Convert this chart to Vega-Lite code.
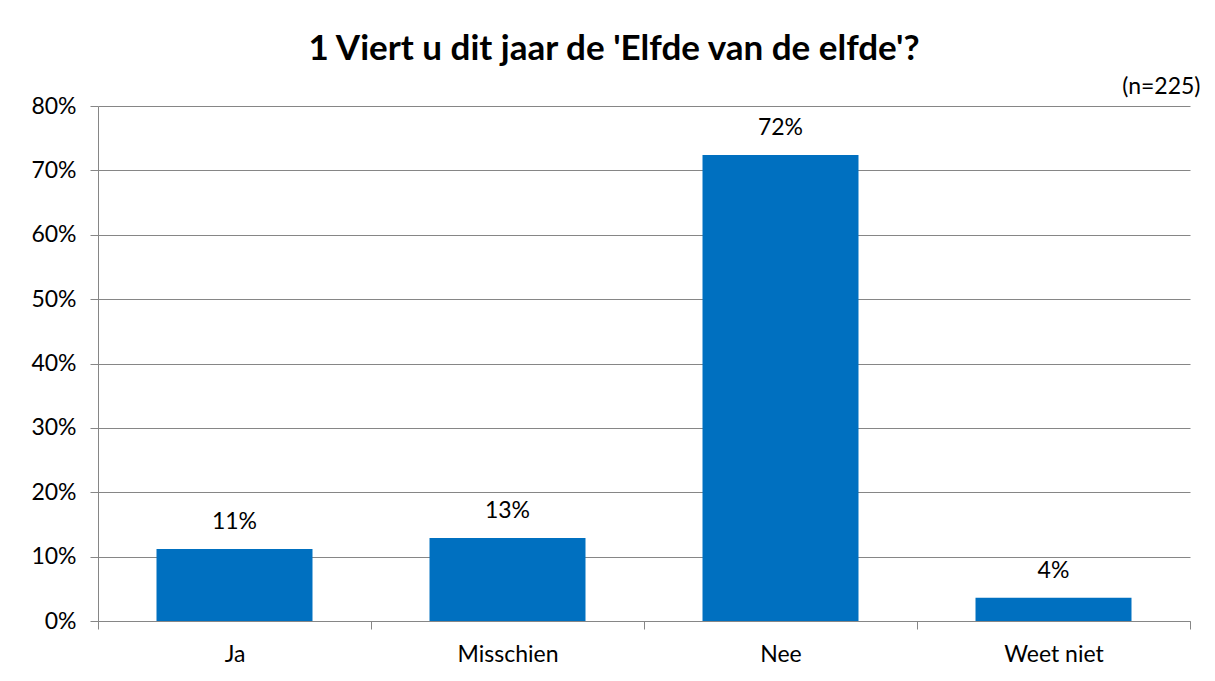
{
  "$schema": "https://vega.github.io/schema/vega-lite/v6.json",
  "width": 1092,
  "height": 515,
  "autosize": {"type": "none"},
  "padding": {"left": 98, "top": 106, "right": 25, "bottom": 60},
  "background": "white",
  "title": {
    "text": "1 Viert u dit jaar de 'Elfde van de elfde'?",
    "font": "Lato",
    "fontSize": 35,
    "fontWeight": "bold",
    "color": "black",
    "anchor": "middle",
    "dx": -30,
    "offset": 8
  },
  "data": {
    "values": [
      {"antwoord": "Ja", "pct": 0.112},
      {"antwoord": "Misschien", "pct": 0.129},
      {"antwoord": "Nee", "pct": 0.724},
      {"antwoord": "Weet niet", "pct": 0.036}
    ]
  },
  "encoding": {
    "x": {
      "field": "antwoord",
      "type": "nominal",
      "sort": null,
      "scale": {"paddingInner": 0, "paddingOuter": 0},
      "axis": {
        "orient": "bottom",
        "title": null,
        "labelAngle": 0,
        "labelFont": "Lato",
        "labelFontSize": 23,
        "labelColor": "black",
        "labelPadding": 14,
        "tickBand": "extent",
        "tickSize": 8,
        "tickColor": "#868686",
        "domainColor": "#868686",
        "grid": false
      }
    },
    "y": {
      "field": "pct",
      "type": "quantitative",
      "scale": {"domain": [0, 0.8]},
      "axis": {
        "title": null,
        "format": ".0%",
        "values": [0, 0.1, 0.2, 0.3, 0.4, 0.5, 0.6, 0.7, 0.8],
        "labelFont": "Lato",
        "labelFontSize": 23,
        "labelColor": "black",
        "labelPadding": 14,
        "tickSize": 8,
        "tickColor": "#868686",
        "domainColor": "#868686",
        "gridColor": "#868686",
        "grid": true
      }
    }
  },
  "layer": [
    {"mark": {"type": "bar", "color": "#0070C0", "width": {"band": 0.5714}}},
    {
      "mark": {"type": "text", "baseline": "bottom", "dy": -15, "font": "Lato", "fontSize": 23, "color": "black"},
      "encoding": {
        "text": {"field": "pct", "format": ".0%"},
        "x": {
          "field": "antwoord",
          "type": "nominal",
          "sort": null,
          "axis": {
            "orient": "top",
            "title": "(n=225)",
            "titleAnchor": "end",
            "titleAlign": "right",
            "titleX": 1102,
            "titleFont": "Lato",
            "titleFontSize": 23,
            "titleFontWeight": "normal",
            "titleColor": "black",
            "titlePadding": 8,
            "labels": false,
            "ticks": false,
            "domain": false,
            "grid": false
          }
        }
      }
    }
  ],
  "resolve": {"axis": {"x": "independent"}},
  "config": {"view": {"stroke": null}}
}
